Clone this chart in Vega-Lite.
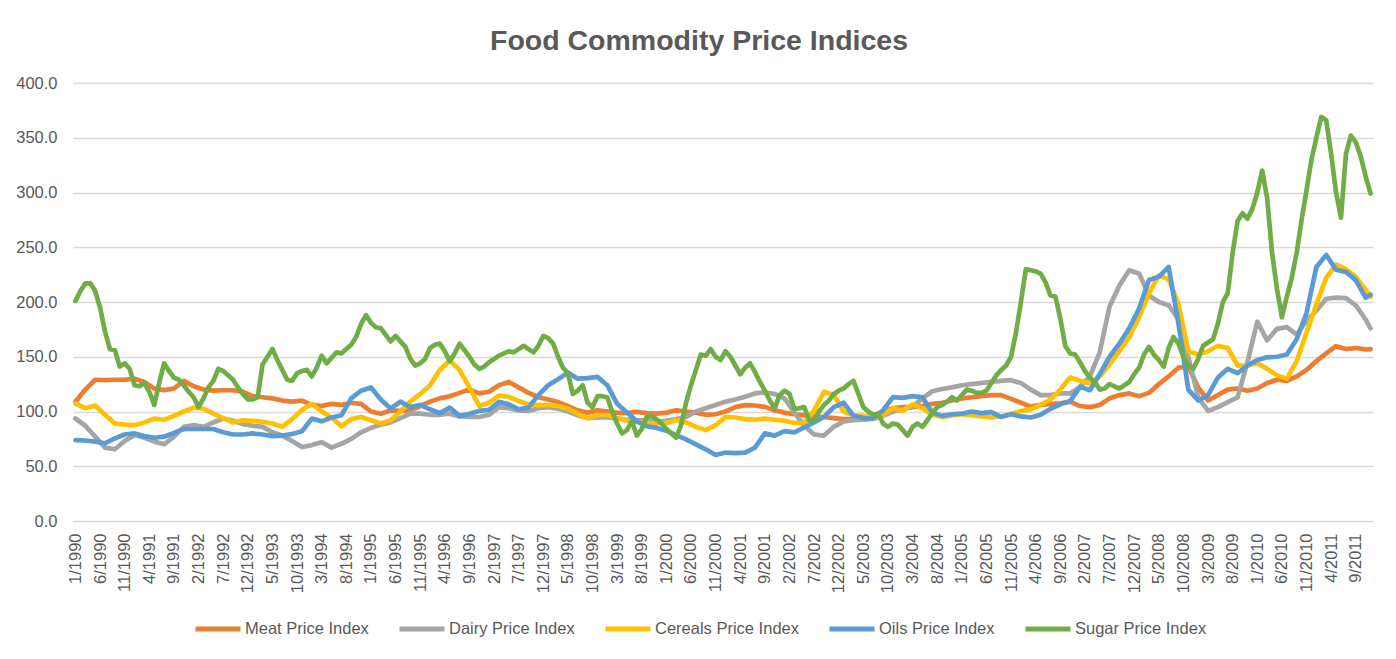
{
  "$schema": "https://vega.github.io/schema/vega-lite/v6.json",
  "width": 1300,
  "height": 438,
  "autosize": {"type": "none"},
  "padding": {"left": 73, "top": 83, "right": 23, "bottom": 138},
  "background": "white",
  "title": {"text": "Food Commodity Price Indices", "font": "Liberation Sans", "fontSize": 28.5, "fontWeight": "bold", "color": "#595959", "anchor": "middle", "dx": -24, "dy": 37, "offset": 34, "baseline": "alphabetic"},
  "datasets": {
    "main": [
      {"t":0,"Meat":109,"Dairy":93.6,"Cereals":107.3,"Oils":73.8},
      {"t":2,"Meat":120,"Dairy":87,"Cereals":103,"Oils":73.5},
      {"t":4,"Meat":129,"Dairy":77,"Cereals":105.5,"Oils":72.5},
      {"t":6,"Meat":128.6,"Dairy":67,"Cereals":97,"Oils":71},
      {"t":8,"Meat":129,"Dairy":65.5,"Cereals":89,"Oils":75.5},
      {"t":10,"Meat":129,"Dairy":73,"Cereals":88,"Oils":79},
      {"t":12,"Meat":130,"Dairy":78.5,"Cereals":87.5,"Oils":80},
      {"t":14,"Meat":127,"Dairy":76,"Cereals":90,"Oils":77.5},
      {"t":16,"Meat":121,"Dairy":72.5,"Cereals":93.5,"Oils":76},
      {"t":18,"Meat":119.5,"Dairy":70,"Cereals":92.5,"Oils":77},
      {"t":20,"Meat":121,"Dairy":77,"Cereals":96,"Oils":80.5},
      {"t":22,"Meat":128,"Dairy":86,"Cereals":100,"Oils":84},
      {"t":24,"Meat":123,"Dairy":87.5,"Cereals":103.5,"Oils":84},
      {"t":26,"Meat":120,"Dairy":86,"Cereals":102.5,"Oils":84},
      {"t":28,"Meat":119,"Dairy":90,"Cereals":98,"Oils":84},
      {"t":30,"Meat":119.4,"Dairy":93.6,"Cereals":94,"Oils":81},
      {"t":32,"Meat":119.4,"Dairy":91.5,"Cereals":90,"Oils":79},
      {"t":34,"Meat":118,"Dairy":88.5,"Cereals":92,"Oils":79},
      {"t":36,"Meat":114,"Dairy":87,"Cereals":91.5,"Oils":80},
      {"t":38,"Meat":113,"Dairy":86,"Cereals":90.6,"Oils":79},
      {"t":40,"Meat":112,"Dairy":81,"Cereals":89,"Oils":77.5},
      {"t":42,"Meat":110,"Dairy":78,"Cereals":86,"Oils":78},
      {"t":44,"Meat":109,"Dairy":73,"Cereals":93,"Oils":79.5},
      {"t":46,"Meat":110,"Dairy":67.5,"Cereals":101.5,"Oils":82},
      {"t":48,"Meat":106,"Dairy":69.3,"Cereals":107,"Oils":93.5},
      {"t":50,"Meat":105,"Dairy":72,"Cereals":100,"Oils":91},
      {"t":52,"Meat":107,"Dairy":67,"Cereals":94.5,"Oils":94.5},
      {"t":54,"Meat":106,"Dairy":70.5,"Cereals":86.5,"Oils":96.6},
      {"t":56,"Meat":108,"Dairy":75,"Cereals":93,"Oils":112},
      {"t":58,"Meat":107,"Dairy":81,"Cereals":95,"Oils":119},
      {"t":60,"Meat":100,"Dairy":85,"Cereals":92,"Oils":122},
      {"t":62,"Meat":98,"Dairy":88,"Cereals":89,"Oils":111},
      {"t":64,"Meat":101,"Dairy":90,"Cereals":92,"Oils":102.7},
      {"t":66,"Meat":100.5,"Dairy":94,"Cereals":100,"Oils":109},
      {"t":68,"Meat":101,"Dairy":98,"Cereals":109,"Oils":104},
      {"t":70,"Meat":105,"Dairy":98,"Cereals":116,"Oils":106},
      {"t":72,"Meat":109,"Dairy":97,"Cereals":124,"Oils":102},
      {"t":74,"Meat":112,"Dairy":97,"Cereals":138,"Oils":98.5},
      {"t":76,"Meat":114,"Dairy":98,"Cereals":146.5,"Oils":103.5},
      {"t":78,"Meat":117,"Dairy":95.5,"Cereals":138,"Oils":96},
      {"t":80,"Meat":120,"Dairy":95,"Cereals":122,"Oils":98},
      {"t":82,"Meat":116.5,"Dairy":95,"Cereals":105,"Oils":100.5},
      {"t":84,"Meat":118,"Dairy":97,"Cereals":108,"Oils":101.5},
      {"t":86,"Meat":124,"Dairy":104,"Cereals":114.5,"Oils":108.8},
      {"t":88,"Meat":127,"Dairy":103,"Cereals":113.5,"Oils":106.5},
      {"t":90,"Meat":122,"Dairy":101,"Cereals":109.5,"Oils":102},
      {"t":92,"Meat":117,"Dairy":100.5,"Cereals":106.5,"Oils":103.5},
      {"t":94,"Meat":113,"Dairy":103,"Cereals":105.8,"Oils":115},
      {"t":96,"Meat":111,"Dairy":104,"Cereals":105.8,"Oils":124},
      {"t":98,"Meat":108.6,"Dairy":102.5,"Cereals":105,"Oils":129.5},
      {"t":100,"Meat":105,"Dairy":100,"Cereals":102.5,"Oils":135.5},
      {"t":102,"Meat":101,"Dairy":96.6,"Cereals":98,"Oils":130},
      {"t":104,"Meat":99,"Dairy":94,"Cereals":93.6,"Oils":130.5},
      {"t":106,"Meat":101,"Dairy":94.5,"Cereals":97,"Oils":131.6},
      {"t":108,"Meat":100,"Dairy":94.5,"Cereals":96.5,"Oils":124},
      {"t":110,"Meat":99,"Dairy":93.6,"Cereals":94,"Oils":107},
      {"t":112,"Meat":98.5,"Dairy":92.5,"Cereals":91.5,"Oils":99},
      {"t":114,"Meat":99.7,"Dairy":92,"Cereals":90.6,"Oils":91},
      {"t":116,"Meat":98.5,"Dairy":92,"Cereals":89.5,"Oils":86.5},
      {"t":118,"Meat":98,"Dairy":90.6,"Cereals":89,"Oils":85},
      {"t":120,"Meat":99,"Dairy":91.5,"Cereals":89.5,"Oils":82.5},
      {"t":122,"Meat":101,"Dairy":93,"Cereals":92,"Oils":78.5},
      {"t":124,"Meat":100,"Dairy":95,"Cereals":90,"Oils":74.5},
      {"t":126,"Meat":99,"Dairy":100,"Cereals":86,"Oils":70},
      {"t":128,"Meat":97,"Dairy":103,"Cereals":83,"Oils":65.5},
      {"t":130,"Meat":97.5,"Dairy":106,"Cereals":87.5,"Oils":60.2},
      {"t":132,"Meat":100,"Dairy":109,"Cereals":95,"Oils":62.5},
      {"t":134,"Meat":104,"Dairy":111,"Cereals":94.5,"Oils":62},
      {"t":136,"Meat":105.8,"Dairy":113.4,"Cereals":93,"Oils":62.5},
      {"t":138,"Meat":105.5,"Dairy":116.5,"Cereals":92.5,"Oils":67},
      {"t":140,"Meat":104.2,"Dairy":117.5,"Cereals":93.5,"Oils":80},
      {"t":142,"Meat":101,"Dairy":116,"Cereals":92.5,"Oils":78},
      {"t":144,"Meat":99,"Dairy":112,"Cereals":91.5,"Oils":82},
      {"t":146,"Meat":97.5,"Dairy":99,"Cereals":89.5,"Oils":81},
      {"t":148,"Meat":96.6,"Dairy":87,"Cereals":89.5,"Oils":85.5},
      {"t":150,"Meat":95.5,"Dairy":79,"Cereals":101,"Oils":90},
      {"t":152,"Meat":95,"Dairy":78,"Cereals":118,"Oils":95},
      {"t":154,"Meat":94,"Dairy":86,"Cereals":115,"Oils":104},
      {"t":156,"Meat":93,"Dairy":91,"Cereals":100,"Oils":108},
      {"t":158,"Meat":93,"Dairy":92,"Cereals":96.6,"Oils":96},
      {"t":160,"Meat":94,"Dairy":92.5,"Cereals":96,"Oils":94},
      {"t":162,"Meat":96,"Dairy":93.5,"Cereals":95,"Oils":93.6},
      {"t":164,"Meat":100,"Dairy":96,"Cereals":97,"Oils":101},
      {"t":166,"Meat":103,"Dairy":100,"Cereals":103,"Oils":113.2},
      {"t":168,"Meat":104,"Dairy":102,"Cereals":100.5,"Oils":112.5},
      {"t":170,"Meat":104,"Dairy":104.2,"Cereals":106.5,"Oils":114},
      {"t":172,"Meat":105,"Dairy":112,"Cereals":103,"Oils":113},
      {"t":174,"Meat":107,"Dairy":118.5,"Cereals":97,"Oils":99},
      {"t":176,"Meat":108,"Dairy":120.5,"Cereals":95,"Oils":96},
      {"t":178,"Meat":110,"Dairy":122,"Cereals":96.5,"Oils":97.5},
      {"t":180,"Meat":112,"Dairy":124,"Cereals":97.5,"Oils":98},
      {"t":182,"Meat":113,"Dairy":125,"Cereals":96.7,"Oils":100},
      {"t":184,"Meat":114,"Dairy":126,"Cereals":95.5,"Oils":98.5},
      {"t":186,"Meat":115,"Dairy":127,"Cereals":94.5,"Oils":99.5},
      {"t":188,"Meat":115,"Dairy":128,"Cereals":95.5,"Oils":95},
      {"t":190,"Meat":111.5,"Dairy":128.6,"Cereals":98,"Oils":97.5},
      {"t":192,"Meat":108,"Dairy":126,"Cereals":100.5,"Oils":95.5},
      {"t":194,"Meat":104.5,"Dairy":120,"Cereals":102,"Oils":94.5},
      {"t":196,"Meat":106,"Dairy":115,"Cereals":106,"Oils":97},
      {"t":198,"Meat":107,"Dairy":115,"Cereals":111,"Oils":102.5},
      {"t":200,"Meat":107.5,"Dairy":116.5,"Cereals":120,"Oils":106.5},
      {"t":202,"Meat":109,"Dairy":116.5,"Cereals":131,"Oils":109.5},
      {"t":204,"Meat":105,"Dairy":122.5,"Cereals":128,"Oils":122.5},
      {"t":206,"Meat":104,"Dairy":132,"Cereals":125.6,"Oils":119.5},
      {"t":208,"Meat":106,"Dairy":154,"Cereals":132,"Oils":134},
      {"t":210,"Meat":112,"Dairy":196,"Cereals":143,"Oils":150},
      {"t":212,"Meat":115,"Dairy":215,"Cereals":155,"Oils":162},
      {"t":214,"Meat":116.5,"Dairy":229,"Cereals":168,"Oils":176},
      {"t":216,"Meat":114,"Dairy":226,"Cereals":186,"Oils":194},
      {"t":218,"Meat":117,"Dairy":206,"Cereals":208,"Oils":220},
      {"t":220,"Meat":125,"Dairy":200,"Cereals":224,"Oils":223},
      {"t":222,"Meat":132,"Dairy":197,"Cereals":221,"Oils":232},
      {"t":224,"Meat":140,"Dairy":184,"Cereals":198,"Oils":180},
      {"t":226,"Meat":141,"Dairy":150,"Cereals":155,"Oils":120},
      {"t":228,"Meat":122,"Dairy":113,"Cereals":152,"Oils":110},
      {"t":230,"Meat":110,"Dairy":100.5,"Cereals":155,"Oils":115},
      {"t":232,"Meat":115,"Dairy":104,"Cereals":160,"Oils":131},
      {"t":234,"Meat":120,"Dairy":108.6,"Cereals":158,"Oils":139},
      {"t":236,"Meat":121,"Dairy":113,"Cereals":142,"Oils":135},
      {"t":238,"Meat":119,"Dairy":145,"Cereals":142,"Oils":142},
      {"t":240,"Meat":121,"Dairy":182,"Cereals":144,"Oils":147},
      {"t":242,"Meat":126,"Dairy":165,"Cereals":139,"Oils":149.5},
      {"t":244,"Meat":129,"Dairy":175.5,"Cereals":133,"Oils":150},
      {"t":246,"Meat":128,"Dairy":177,"Cereals":130,"Oils":152},
      {"t":248,"Meat":132,"Dairy":170.3,"Cereals":146,"Oils":166},
      {"t":250,"Meat":138,"Dairy":183,"Cereals":172,"Oils":190},
      {"t":252,"Meat":146,"Dairy":192,"Cereals":198,"Oils":232},
      {"t":254,"Meat":153,"Dairy":203,"Cereals":222,"Oils":243},
      {"t":256,"Meat":159.7,"Dairy":204,"Cereals":234,"Oils":229.5},
      {"t":258,"Meat":157,"Dairy":203.5,"Cereals":230,"Oils":227.5},
      {"t":260,"Meat":158,"Dairy":197,"Cereals":223,"Oils":220},
      {"t":262,"Meat":156.7,"Dairy":184,"Cereals":211,"Oils":204},
      {"t":263,"Meat":157,"Dairy":176,"Cereals":205,"Oils":206.7}
    ],
    "sugar": [
      {"t":0,"v":201},{"t":1,"v":210},{"t":2,"v":217},{"t":3,"v":217},{"t":4,"v":210},{"t":5,"v":195},{"t":6,"v":173},{"t":7,"v":157},{"t":8,"v":156},{"t":9,"v":141},
      {"t":10,"v":144},{"t":11,"v":139},{"t":12,"v":124},{"t":13,"v":123},{"t":14,"v":126},{"t":15,"v":118},{"t":16,"v":106},{"t":17,"v":126},{"t":18,"v":144},{"t":19,"v":137},
      {"t":20,"v":131},{"t":21,"v":129},{"t":22,"v":124},{"t":23,"v":118},{"t":24,"v":113},{"t":25,"v":104},{"t":26,"v":112},{"t":27,"v":122},{"t":28,"v":128},{"t":29,"v":139},
      {"t":30,"v":137},{"t":31,"v":133},{"t":32,"v":129},{"t":33,"v":122},{"t":34,"v":116},{"t":35,"v":111},{"t":36,"v":111},{"t":37,"v":113},{"t":38,"v":143},{"t":39,"v":150},
      {"t":40,"v":157},{"t":41,"v":147},{"t":42,"v":138},{"t":43,"v":129},{"t":44,"v":128},{"t":45,"v":135},{"t":46,"v":137},{"t":47,"v":138},{"t":48,"v":132},{"t":49,"v":140},
      {"t":50,"v":151},{"t":51,"v":144},{"t":52,"v":149},{"t":53,"v":154},{"t":54,"v":153},{"t":55,"v":157},{"t":56,"v":161},{"t":57,"v":168},{"t":58,"v":180},{"t":59,"v":188},
      {"t":60,"v":181},{"t":61,"v":177},{"t":62,"v":176},{"t":63,"v":170},{"t":64,"v":164},{"t":65,"v":169},{"t":66,"v":164},{"t":67,"v":159},{"t":68,"v":148},{"t":69,"v":142},
      {"t":70,"v":144},{"t":71,"v":148},{"t":72,"v":158},{"t":73,"v":161},{"t":74,"v":162},{"t":75,"v":155},{"t":76,"v":146},{"t":77,"v":153},{"t":78,"v":162},{"t":79,"v":156},
      {"t":80,"v":150},{"t":81,"v":143},{"t":82,"v":139},{"t":83,"v":141},{"t":84,"v":145},{"t":85,"v":148},{"t":86,"v":151},{"t":87,"v":153},{"t":88,"v":155},{"t":89,"v":154},
      {"t":90,"v":157},{"t":91,"v":160},{"t":92,"v":157},{"t":93,"v":154},{"t":94,"v":160},{"t":95,"v":169},{"t":96,"v":167},{"t":97,"v":162},{"t":98,"v":150},{"t":99,"v":140},
      {"t":100,"v":135},{"t":101,"v":116},{"t":102,"v":119},{"t":103,"v":124},{"t":104,"v":108},{"t":105,"v":104},{"t":106,"v":114},{"t":107,"v":114},{"t":108,"v":113},{"t":109,"v":100},
      {"t":110,"v":89},{"t":111,"v":80},{"t":112,"v":83},{"t":113,"v":91},{"t":114,"v":78},{"t":115,"v":84},{"t":116,"v":95},{"t":117,"v":96},{"t":118,"v":93},{"t":119,"v":89},
      {"t":120,"v":84},{"t":121,"v":80},{"t":122,"v":76},{"t":123,"v":88},{"t":124,"v":108},{"t":125,"v":124},{"t":126,"v":138},{"t":127,"v":152},{"t":128,"v":151},{"t":129,"v":157},
      {"t":130,"v":150},{"t":131,"v":147},{"t":132,"v":155},{"t":133,"v":150},{"t":134,"v":142},{"t":135,"v":134},{"t":136,"v":140},{"t":137,"v":144},{"t":138,"v":136},{"t":139,"v":127},
      {"t":140,"v":119},{"t":141,"v":110},{"t":142,"v":103},{"t":143,"v":115},{"t":144,"v":119},{"t":145,"v":116},{"t":146,"v":102},{"t":147,"v":103},{"t":148,"v":104},{"t":149,"v":92},
      {"t":150,"v":92},{"t":151,"v":100},{"t":152,"v":106},{"t":153,"v":110},{"t":154,"v":116},{"t":155,"v":119},{"t":156,"v":121},{"t":157,"v":125},{"t":158,"v":128},{"t":159,"v":116},
      {"t":160,"v":104},{"t":161,"v":100},{"t":162,"v":97},{"t":163,"v":98},{"t":164,"v":89},{"t":165,"v":86},{"t":166,"v":89},{"t":167,"v":88},{"t":168,"v":83},{"t":169,"v":78},
      {"t":170,"v":86},{"t":171,"v":89},{"t":172,"v":86},{"t":173,"v":92},{"t":174,"v":99},{"t":175,"v":104},{"t":176,"v":106},{"t":177,"v":109},{"t":178,"v":113},{"t":179,"v":110},
      {"t":180,"v":115},{"t":181,"v":120},{"t":182,"v":119},{"t":183,"v":117},{"t":184,"v":117},{"t":185,"v":119},{"t":186,"v":126},{"t":187,"v":133},{"t":188,"v":138},{"t":189,"v":142},
      {"t":190,"v":150},{"t":191,"v":172},{"t":192,"v":200},{"t":193,"v":230},{"t":194,"v":229},{"t":195,"v":228},{"t":196,"v":226},{"t":197,"v":218},{"t":198,"v":206},{"t":199,"v":205},
      {"t":200,"v":185},{"t":201,"v":160},{"t":202,"v":153},{"t":203,"v":152},{"t":204,"v":145},{"t":205,"v":137},{"t":206,"v":131},{"t":207,"v":127},{"t":208,"v":120},{"t":209,"v":121},
      {"t":210,"v":125},{"t":211,"v":123},{"t":212,"v":121},{"t":213,"v":124},{"t":214,"v":127},{"t":215,"v":134},{"t":216,"v":140},{"t":217,"v":152},{"t":218,"v":159},{"t":219,"v":152},
      {"t":220,"v":147},{"t":221,"v":141},{"t":222,"v":158},{"t":223,"v":168},{"t":224,"v":162},{"t":225,"v":150},{"t":226,"v":142},{"t":227,"v":139},{"t":228,"v":148},{"t":229,"v":160},
      {"t":230,"v":163},{"t":231,"v":166},{"t":232,"v":180},{"t":233,"v":200},{"t":234,"v":208},{"t":235,"v":245},{"t":236,"v":274},{"t":237,"v":281},{"t":238,"v":276},{"t":239,"v":285},
      {"t":240,"v":300},{"t":241,"v":320},{"t":242,"v":295},{"t":243,"v":245},{"t":244,"v":212},{"t":245,"v":186},{"t":246,"v":205},{"t":247,"v":222},{"t":248,"v":245},{"t":249,"v":275},
      {"t":250,"v":302},{"t":251,"v":330},{"t":252,"v":350},{"t":253,"v":369},{"t":254,"v":366},{"t":255,"v":335},{"t":256,"v":300},{"t":257,"v":277},{"t":258,"v":335},{"t":259,"v":352},
      {"t":260,"v":346},{"t":261,"v":333},{"t":262,"v":315},{"t":263,"v":299}
    ]
  },
  "encoding": {
    "x": {
      "field": "t", "type": "quantitative",
      "scale": {"domain": [-0.5, 263.5], "nice": false, "zero": false},
      "axis": {
        "title": null,
        "values": [0,5,10,15,20,25,30,35,40,45,50,55,60,65,70,75,80,85,90,95,100,105,110,115,120,125,130,135,140,145,150,155,160,165,170,175,180,185,190,195,200,205,210,215,220,225,230,235,240,245,250,255,260],
        "labelExpr": "(datum.value % 12 + 1) + '/' + (1990 + floor(datum.value / 12))",
        "labelAngle": -90,
        "labelPadding": 12,
        "labelOverlap": false,
        "labelBound": false,
        "labelFlush": false,
        "grid": false, "ticks": false, "domain": false,
        "labelFont": "Liberation Sans", "labelFontSize": 16.5, "labelColor": "#595959"
      }
    }
  },
  "layer": [
    {
      "data": {"name": "main"},
      "transform": [{"fold": ["Meat", "Dairy", "Cereals", "Oils"], "as": ["series", "value"]}],
      "mark": {"type": "line", "strokeWidth": 4.7, "strokeJoin": "round", "strokeCap": "round"},
      "encoding": {
        "y": {
          "field": "value", "type": "quantitative",
          "scale": {"domain": [0, 400], "nice": false},
          "axis": {
            "title": null,
            "values": [0,50,100,150,200,250,300,350,400],
            "format": ".1f",
            "grid": true, "gridColor": "#D9D9D9", "gridWidth": 1.3,
            "domain": false, "ticks": false,
            "labelPadding": 16,
            "labelFont": "Liberation Sans", "labelFontSize": 16.5, "labelColor": "#595959"
          }
        },
        "color": {
          "field": "series", "type": "nominal",
          "scale": {"domain": ["Meat", "Dairy", "Cereals", "Oils", "Sugar"], "range": ["#ED7D31", "#A5A5A5", "#FFC000", "#5B9BD5", "#70AD47"]},
          "legend": {
            "title": null,
            "orient": "none",
            "legendX": 120,
            "legendY": 521,
            "direction": "horizontal",
            "symbolType": "stroke",
            "symbolSize": 2025,
            "symbolStrokeWidth": 5,
            "labelExpr": "datum.label + ' Price Index'",
            "labelFont": "Liberation Sans",
            "labelFontSize": 16.5,
            "labelColor": "#595959",
            "labelOffset": 2,
            "columnPadding": 20
          }
        }
      }
    },
    {
      "data": {"name": "sugar"},
      "mark": {"type": "line", "strokeWidth": 4.7, "strokeJoin": "round", "strokeCap": "round"},
      "encoding": {
        "y": {"field": "v", "type": "quantitative"},
        "color": {"datum": "Sugar", "type": "nominal"}
      }
    }
  ],
  "config": {"view": {"stroke": null}}
}
